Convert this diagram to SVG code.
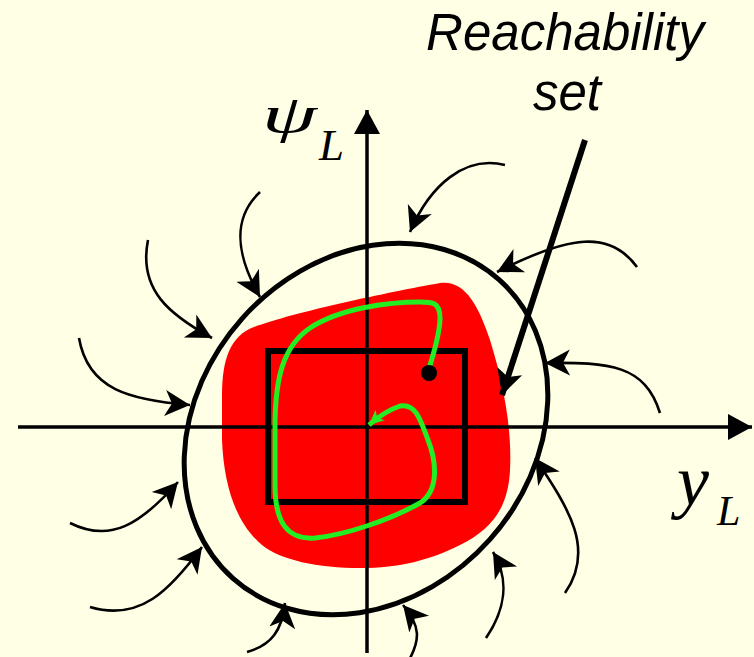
<svg xmlns="http://www.w3.org/2000/svg" width="754" height="657" viewBox="0 0 754 657">
<style>
.thin{fill:none;stroke:#000;stroke-width:2.6;marker-end:url(#ah)}
.axis{stroke:#000;stroke-width:3.5;fill:none}
.lbl{font-family:"Liberation Sans",Arial,sans-serif;font-style:italic;font-size:51px;fill:#000}
.math{font-family:"Liberation Serif","Times New Roman",serif;font-style:italic;fill:#000}
</style>
<defs>
<marker id="ah" markerUnits="userSpaceOnUse" markerWidth="30" markerHeight="30" refX="25" refY="13" orient="auto" viewBox="0 0 30 26">
<path d="M25,13 L0,0 L7,13 L0,26 Z" fill="#000"/>
</marker>
<marker id="ahbig" markerUnits="userSpaceOnUse" markerWidth="30" markerHeight="30" refX="25" refY="13" orient="auto" viewBox="0 0 30 26">
<path d="M25,13 L0,0 L6,13 L0,26 Z" fill="#000"/>
</marker>
<marker id="ahaxis" markerUnits="userSpaceOnUse" markerWidth="26" markerHeight="28" refX="24" refY="13" orient="auto" viewBox="0 0 26 26">
<path d="M24,13 L0,0 L0,26 Z" fill="#000"/>
</marker>
<marker id="ahg" markerUnits="userSpaceOnUse" markerWidth="18" markerHeight="18" refX="15" refY="7" orient="auto" viewBox="0 0 18 14">
<path d="M15,7 L0,0 L4,7 L0,14 Z" fill="#22ee22"/>
</marker>
</defs>
<rect width="754" height="657" fill="#ffffe5"/>
<g id="reach-set">
<path d="M222,440 L222,395 C222,360 230,336 254,327 C294,312 390,292 440,283 C465,280 478,305 490,340 C504,385 512,430 510,470 C508,510 490,530 460,545 C430,560 400,568 360,568 C318,568 280,560 262,545 C238,525 224,490 222,440 Z" fill="#ff0000"/>
</g>
<g id="axes">
<line class="axis" x1="18" y1="427" x2="752" y2="427" marker-end="url(#ahaxis)"/>
<line class="axis" x1="367" y1="653" x2="367" y2="110" marker-end="url(#ahaxis)"/>
</g>
<g id="boundary">
<ellipse cx="366" cy="429" rx="200" ry="166" transform="rotate(-48.3 366 429)" fill="none" stroke="#000" stroke-width="5"/>
</g>
<g id="target-box">
<rect x="268" y="351" width="197" height="151" fill="none" stroke="#000" stroke-width="6"/>
</g>
<g id="trajectory">
<path d="M428,372 C433,355 440,335 440,318 C440,302 432,302 420,302 C390,302 340,308 310,328 C282,347 276,380 275,420 L275,485 C275,522 287,540 315,538 C345,535 390,520 420,503 C440,490 436,460 428,440 C420,418 415,403 400,406 C388,410 378,417 369,425" fill="none" stroke="#22ee22" stroke-width="5" marker-end="url(#ahg)"/>
<circle cx="429" cy="373" r="8" fill="#000"/>
</g>
<g id="connectors">
<path class="thin" d="M260,192 C228,222 240,262 260,297"/>
<path class="thin" d="M148,240 C138,290 170,315 212,338"/>
<path class="thin" d="M79,338 C88,390 130,400 190,405"/>
<path class="thin" d="M70,523 C110,543 140,525 178,482"/>
<path class="thin" d="M90,607 C140,622 170,590 202,547"/>
<path class="thin" d="M247,652 C272,645 282,630 285,603"/>
<path class="thin" d="M406,665 C422,640 420,625 403,605"/>
<path class="thin" d="M486,638 C505,610 510,580 493,552"/>
<path class="thin" d="M565,593 C595,550 570,510 535,458"/>
<path class="thin" d="M660,413 C645,365 610,362 545,363"/>
<path class="thin" d="M637,267 C610,230 570,235 497,272"/>
<path class="thin" d="M505,165 C465,155 430,185 410,232"/>
<line x1="585" y1="140" x2="502" y2="395" stroke="#000" stroke-width="6" marker-end="url(#ahbig)"/>
</g>
<g id="labels">
<text class="lbl" x="565" y="50" text-anchor="middle">Reachability</text>
<text class="lbl" x="567" y="110" text-anchor="middle">set</text>
<text class="math" font-size="52" transform="translate(262,132) scale(1.7,1)">ψ</text>
<text class="math" x="319" y="160" font-size="45">L</text>
<text class="math" x="677" y="505" font-size="72">y</text>
<text class="math" x="717" y="525" font-size="42">L</text>
</g>
</svg>
